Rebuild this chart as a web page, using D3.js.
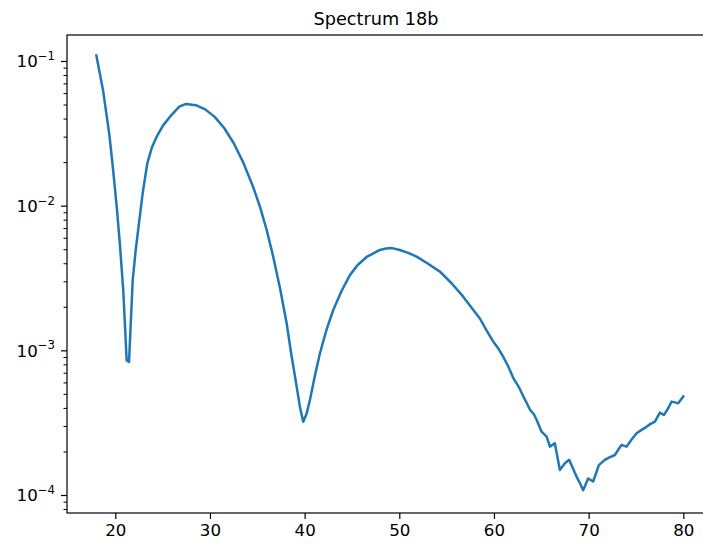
<!DOCTYPE html>
<html>
<head>
<meta charset="utf-8">
<script src="https://cdn.jsdelivr.net/npm/d3@7"></script>
<style>
  html, body { margin: 0; padding: 0; background: #fff; overflow: hidden; }
  svg { display: block; }
  text { font-family: "DejaVu Sans", sans-serif; fill: #000; }
</style>
</head>
<body>
<svg id="chart" width="703" height="545"></svg>
<script>
const title = "Spectrum 18b";
const xValues = [
  18.0, 18.7, 19.37, 19.75, 20.15, 20.5, 20.84, 21.2, 21.45, 21.84,
  22.15, 22.5, 22.9, 23.38, 23.85, 24.37, 25.05, 25.78, 26.76, 27.47,
  28.5, 29.5, 30.5, 31.5, 32.5, 33.5, 34.5, 35.28, 36.0, 36.68,
  37.4, 38.1, 38.6, 39.16, 39.5, 39.85, 40.2, 40.56, 41.1, 41.62,
  42.3, 43.02, 43.9, 44.78, 45.6, 46.55, 47.95, 48.6, 49.23, 50.06,
  51.0, 51.83, 53.0, 54.29, 55.5, 56.75, 57.8, 58.51, 59.2, 59.92,
  60.5, 60.97, 61.5, 62.03, 62.6, 63.11, 63.5, 63.82, 64.2, 64.5,
  65.03, 65.56, 65.91, 66.43, 66.96, 67.49, 67.94, 68.3, 68.72, 69.1,
  69.42, 69.95, 70.48, 71.08, 71.71, 72.2, 72.77, 73.47, 74.0, 74.5,
  75.06, 75.6, 76.11, 76.5, 77.0, 77.53, 77.95, 78.4, 78.76, 79.1,
  79.46, 80.0
];
const yValues = [
  0.1091, 0.0631, 0.0311, 0.0182, 0.00984, 0.00525, 0.00261, 0.000851, 0.000832, 0.00306,
  0.00490, 0.00755, 0.0123, 0.0196, 0.0251, 0.0300, 0.0359, 0.0412, 0.0483, 0.0505,
  0.0495, 0.0463, 0.0411, 0.0344, 0.0271, 0.0200, 0.0138, 0.00984, 0.00676, 0.00444,
  0.00269, 0.00154, 0.000933, 0.000561, 0.000407, 0.000321, 0.000363, 0.000454, 0.000676, 0.000955,
  0.00138, 0.00190, 0.00257, 0.00331, 0.00389, 0.00442, 0.00494, 0.00505, 0.00509, 0.00494,
  0.00470, 0.00444, 0.00398, 0.00350, 0.00292, 0.00235, 0.00191, 0.00166, 0.00138, 0.00115,
  0.00102, 0.000904, 0.000776, 0.000646, 0.000562, 0.000479, 0.000427, 0.000387, 0.000363, 0.000331,
  0.000274, 0.000253, 0.000216, 0.000228, 0.000149, 0.000166, 0.000175, 0.000155, 0.000134, 0.000120,
  0.000108, 0.000130, 0.000124, 0.000161, 0.000175, 0.000182, 0.000189, 0.000222, 0.000216, 0.000240,
  0.000267, 0.000282, 0.000296, 0.000309, 0.000321, 0.000371, 0.000357, 0.000398, 0.000442, 0.000437,
  0.000430, 0.000479
];
const xTicks = [20, 30, 40, 50, 60, 70, 80];
const yTickExponents = [-4, -3, -2, -1];

const svg = d3.select("#chart");
const plotLeft = 67, plotTop = 35, plotBottom = 513, plotRight = 712.65;

const x = d3.scaleLinear().domain([14.898, 83.1]).range([plotLeft, plotRight]);
const y = d3.scaleLog().domain([Math.pow(10, -4.1244), Math.pow(10, -0.8203)]).range([plotBottom, plotTop]);

// line
const data = xValues.map((v, i) => [v, yValues[i]]);
svg.append("path")
  .datum(data)
  .attr("fill", "none")
  .attr("stroke", "#1f77b4")
  .attr("stroke-width", 2.5)
  .attr("stroke-linejoin", "round")
  .attr("stroke-linecap", "square")
  .attr("d", d3.line().x(d => x(d[0])).y(d => y(d[1])));

// x axis
const xAxis = svg.append("g").attr("transform", `translate(0,${plotBottom})`)
  .call(d3.axisBottom(x).tickValues(xTicks).tickSize(6).tickPadding(5).tickFormat(d3.format("d")));
xAxis.select(".domain").remove();
xAxis.selectAll("line").attr("stroke", "#000").attr("stroke-width", 1.2);
xAxis.selectAll("text").attr("font-size", "16.67px").attr("font-family", "DejaVu Sans").attr("fill", "#000");

// y axis
const majors = yTickExponents.map(e => Math.pow(10, e));
const minors = [];
for (let e = -5; e <= 0; e++) for (let k = 2; k <= 9; k++) {
  const v = k * Math.pow(10, e);
  if (v >= y.domain()[0] && v <= y.domain()[1]) minors.push(v);
}
const yMinor = svg.append("g").attr("transform", `translate(${plotLeft},0)`)
  .call(d3.axisLeft(y).tickValues(minors).tickSize(3.5).tickFormat(""));
yMinor.select(".domain").remove();
yMinor.selectAll("line").attr("stroke", "#000").attr("stroke-width", 1);

const yMajor = svg.append("g").attr("transform", `translate(${plotLeft},0)`)
  .call(d3.axisLeft(y).tickValues(majors).tickSize(6).tickFormat(""));
yMajor.select(".domain").remove();
yMajor.selectAll("line").attr("stroke", "#000").attr("stroke-width", 1.2);

yMajor.selectAll(".tick").each(function(d) {
  const e = Math.round(Math.log10(d));
  const t = d3.select(this).append("text")
    .attr("x", -12)
    .attr("y", 0)
    .attr("dy", "0.35em")
    .attr("text-anchor", "end")
    .attr("font-size", "16.67px")
    .attr("fill", "#000");
  t.append("tspan").text("10");
  t.append("tspan").attr("font-size", "11.7px").attr("dy", "-0.62em").text("\u2212" + Math.abs(e));
});

// spines
svg.append("rect")
  .attr("x", plotLeft).attr("y", plotTop)
  .attr("width", plotRight - plotLeft).attr("height", plotBottom - plotTop)
  .attr("fill", "none").attr("stroke", "#000").attr("stroke-width", 1.2);

// title
svg.append("text")
  .attr("x", 376)
  .attr("y", plotTop - 10)
  .attr("text-anchor", "middle")
  .attr("font-size", "17.7px")
  .text(title);
</script>
</body>
</html>
